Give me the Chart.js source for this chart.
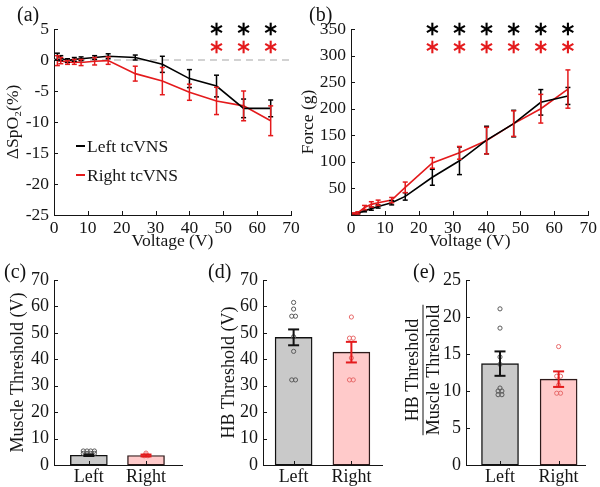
<!DOCTYPE html>
<html><head><meta charset="utf-8">
<script src="https://cdn.jsdelivr.net/npm/chart.js@4/dist/chart.umd.min.js"></script>
<style>
html,body{margin:0;padding:0;background:#fff;}
#wrap{position:relative;width:600px;height:487px;overflow:hidden;background:#fff}
canvas{position:absolute;left:0;top:0;}
.lab{position:absolute;font-family:"Liberation Serif","Times New Roman",serif;font-size:20px;line-height:20px;color:#111}
</style></head><body>
<div id="wrap">
<canvas id="ca" width="600" height="487"></canvas>
<canvas id="cb" width="600" height="487"></canvas>
<canvas id="cc" width="600" height="487"></canvas>
<canvas id="cd" width="600" height="487"></canvas>
<canvas id="ce" width="600" height="487"></canvas>
<div class="lab" style="left:17px;top:4px">(a)</div>
<div class="lab" style="left:309px;top:4px">(b)</div>
<div class="lab" style="left:4px;top:261px">(c)</div>
<div class="lab" style="left:208px;top:261px">(d)</div>
<div class="lab" style="left:413px;top:261px">(e)</div>
</div>
<script>
// ---------- data ----------
const voltages = [1, 2, 4, 6, 8, 12, 16, 24, 32, 40, 48, 56, 64];
const voltTicks = [0, 10, 20, 30, 40, 50, 60, 70];
const seriesNames = ['Left tcVNS', 'Right tcVNS'];

const spo2Left     = [0.6, 0.3, -0.1, 0.1, 0.2, 0.4, 0.6, 0.4, -0.7, -3.0, -4.2, -7.8, -7.8];
const spo2LeftErr  = [0.5, 0.4, 0.3, 0.3, 0.3, 0.3, 0.4, 0.4, 1.3, 1.45, 1.75, 1.5, 1.35];
const spo2Right    = [-0.1, -0.1, -0.4, -0.3, -0.4, -0.2, -0.1, -2.2, -3.4, -5.2, -6.6, -7.4, -9.8];
const spo2RightErr = [0.8, 0.5, 0.3, 0.4, 0.5, 0.6, 0.6, 1.2, 2.2, 1.3, 2.2, 2.4, 2.4];
const spo2Ticks = [-25, -20, -15, -10, -5, 0, 5];
const sigSpO2 = [48, 56, 64];

const forceLeft     = [2, 3, 8, 12, 16, 23, 35, 71, 102, 141, 172, 212, 224];
const forceLeftErr  = [1, 1, 2, 3, 3, 4, 7, 15, 26, 26, 25, 24, 16];
const forceRight    = [3, 4, 14, 20, 23, 28, 52, 98, 117, 140, 172, 200, 237];
const forceRightErr = [1, 2, 4, 5, 5, 5, 10, 10, 12, 25, 24, 27, 36];
const forceTicks = [0, 50, 100, 150, 200, 250, 300, 350];
const sigForce = [24, 32, 40, 48, 56, 64];

const groups = ['Left', 'Right'];
const muscleMean = [3.7, 3.6];
const muscleErr  = [0.3, 0.35];
const muscleLeftPts  = [5.3, 5.3, 5.3, 5.3, 4.4, 4.4, 4.4, 4.4];
const muscleRightPts = [4.5, 3.8, 3.5, 3.5];

const hbMean = [48.3, 42.7];
const hbErr  = [3.0, 3.9];
const hbLeftPts  = [61.5, 59, 56.3, 56.3, 48.5, 43, 32.2, 32.2];
const hbRightPts = [56, 48, 48, 40.5, 32.2, 32.2];
const thrTicks = [0, 10, 20, 30, 40, 50, 60, 70];

const ratioMean = [13.7, 11.6];
const ratioErr  = [1.65, 1.05];
const ratioLeftPts  = [21.1, 18.5, 14.6, 13.6, 10.4, 10, 10, 9.5, 9.5];
const ratioRightPts = [16, 12, 12, 10.8, 9.7, 9.7];
const ratioTicks = [0, 5, 10, 15, 20, 25];

// ---------- styles ----------
const SERIF = '"Liberation Serif","Times New Roman",serif';
const RED = '#e41a1c';
const INK = '#151515';

function pad(box, yW, xH) {
  return {left: box.l - yW, top: box.t, right: 600 - box.r, bottom: 487 - box.b - xH};
}
function line(ctx, x1, y1, x2, y2) { ctx.beginPath(); ctx.moveTo(x1, y1); ctx.lineTo(x2, y2); ctx.stroke(); }

const errorBars = {
  id: 'errorBars',
  afterDatasetsDraw(chart, args, o) {
    const ctx = chart.ctx;
    chart.data.datasets.forEach((ds, i) => {
      if (!ds.errors) return;
      const meta = chart.getDatasetMeta(i);
      const ys = chart.scales[meta.yAxisID];
      ctx.save();
      ctx.lineWidth = o.width || 1.5;
      meta.data.forEach((el, j) => {
        const e = ds.errors[j];
        if (e == null) return;
        const d = ds.data[j];
        const v = typeof d === 'object' ? d.y : d;
        const x = el.x, y1 = ys.getPixelForValue(v + e), y2 = ys.getPixelForValue(v - e);
        const c = o.cap || 2.5;
        ctx.strokeStyle = (ds.errColors && ds.errColors[j]) || ds.borderColor;
        line(ctx, x, y1, x, y2);
        line(ctx, x - c, y1, x + c, y1);
        line(ctx, x - c, y2, x + c, y2);
      });
      ctx.restore();
    });
  }
};

const inTicks = {
  id: 'inTicks',
  afterDatasetsDraw(chart) {
    const ctx = chart.ctx, ca = chart.chartArea, xs = chart.scales.x, ys = chart.scales.y;
    ctx.save(); ctx.strokeStyle = INK; ctx.lineWidth = 1;
    xs.ticks.forEach(t => { const p = Math.round(xs.getPixelForValue(t.value)) + 0.5; line(ctx, p, ca.bottom, p, ca.bottom - 4); });
    ys.ticks.forEach(t => { const p = Math.round(ys.getPixelForValue(t.value)) + 0.5; line(ctx, ca.left, p, ca.left + 4, p); });
    ctx.restore();
  }
};

const sigStars = {
  id: 'sigStars',
  afterDraw(chart, args, o) {
    const ctx = chart.ctx, xs = chart.scales.x, top = chart.chartArea.top;
    ctx.save(); ctx.lineWidth = 2.1; ctx.lineCap = 'butt';
    o.rows.forEach(r => {
      ctx.strokeStyle = r.color;
      o.xs.forEach(v => {
        const cx = xs.getPixelForValue(v), cy = top + r.dy, R = 6.3;
        [90, 30, 150].forEach(a => {
          const rad = a * Math.PI / 180, dx = Math.cos(rad) * R, dy = Math.sin(rad) * R;
          line(ctx, cx - dx, cy - dy, cx + dx, cy + dy);
        });
      });
    });
    ctx.restore();
  }
};

const zeroLine = {
  id: 'zeroLine',
  beforeDatasetsDraw(chart) {
    const ctx = chart.ctx, xs = chart.scales.x, ys = chart.scales.y;
    const y = ys.getPixelForValue(0);
    ctx.save(); ctx.strokeStyle = '#c4c4c4'; ctx.lineWidth = 1.3; ctx.setLineDash([7, 5]);
    line(ctx, xs.getPixelForValue(xs.min), y, xs.getPixelForValue(xs.max), y);
    ctx.restore();
  }
};

const inLegend = {
  id: 'inLegend',
  afterDraw(chart, args, o) {
    const ctx = chart.ctx;
    ctx.save();
    chart.data.datasets.forEach((ds, i) => {
      const y = o.y + i * o.gap;
      ctx.strokeStyle = ds.borderColor; ctx.lineWidth = 2;
      line(ctx, o.x, y, o.x + o.len, y);
      ctx.fillStyle = INK; ctx.font = '17.5px ' + SERIF; ctx.textBaseline = 'middle'; ctx.textAlign = 'left';
      ctx.fillText(ds.label, o.x + o.len + 2, y + 1);
    });
    ctx.restore();
  }
};

const fracTitle = {
  id: 'fracTitle',
  afterDraw(chart, args, o) {
    const ctx = chart.ctx;
    ctx.save();
    ctx.fillStyle = INK; ctx.strokeStyle = INK; ctx.font = '18px ' + SERIF;
    ctx.textAlign = 'center'; ctx.textBaseline = 'middle';
    const cy = o.cy;
    ctx.translate(o.x, cy); ctx.rotate(-Math.PI / 2);
    ctx.fillText(o.num, 0, -10);
    const w = ctx.measureText(o.den).width;
    ctx.lineWidth = 1; line(ctx, -w / 2, 0, w / 2, 0);
    ctx.fillText(o.den, 0, 11);
    ctx.restore();
  }
};

function axisCommon(size) {
  return {
    grid: {display: false, drawTicks: false},
    border: {display: true, color: INK, width: 1},
    ticks: {font: {family: SERIF, size: size}, color: INK, maxRotation: 0, autoSkip: false},
  };
}

function lineChart(id, box, yW, xH, left, leftErr, right, rightErr, yTicks, yTitle, yTitlePad, hideZero, extraPlugins, pluginOpts) {
  const xa = axisCommon(17.5), ya = axisCommon(17.5);
  return new Chart(document.getElementById(id), {
    type: 'line',
    data: {
      datasets: [
        {label: seriesNames[0], data: voltages.map((v, i) => ({x: v, y: left[i]})), errors: leftErr,
         borderColor: '#000', borderWidth: 1.6, pointRadius: 0, tension: 0, fill: false},
        {label: seriesNames[1], data: voltages.map((v, i) => ({x: v, y: right[i]})), errors: rightErr,
         borderColor: RED, borderWidth: 1.6, pointRadius: 0, tension: 0, fill: false}
      ]
    },
    options: {
      responsive: false, animation: false, events: [],
      layout: {padding: pad(box, yW, xH)},
      plugins: Object.assign({legend: {display: false}, tooltip: {enabled: false}, errorBars: {width: 1.5, cap: 2.5}}, pluginOpts),
      scales: {
        x: Object.assign(xa, {
          type: 'linear', min: voltTicks[0], max: voltTicks[voltTicks.length - 1],
          afterBuildTicks: s => { s.ticks = voltTicks.map(v => ({value: v})); },
          afterFit: s => { s.height = xH; },
          ticks: Object.assign(xa.ticks, {padding: 3}),
          title: {display: true, text: 'Voltage (V)', color: INK, font: {family: SERIF, size: 17.5}, padding: {top: 0, bottom: 0.5}}
        }),
        y: Object.assign(ya, {
          type: 'linear', min: yTicks[0], max: yTicks[yTicks.length - 1],
          afterBuildTicks: s => { s.ticks = yTicks.map(v => ({value: v})); },
          afterFit: s => { s.width = yW; },
          ticks: Object.assign(ya.ticks, {padding: 5, callback: v => (hideZero && v === 0) ? '' : String(v)}),
          title: {display: true, text: yTitle, color: INK, font: {family: SERIF, size: 17.5}, padding: {top: yTitlePad, bottom: 0}}
        })
      }
    },
    plugins: [zeroLineIf(id), errorBars, inTicks, sigStars].concat(extraPlugins)
  });
}
function zeroLineIf(id) { return id === 'ca' ? zeroLine : {id: 'noop'}; }

function swarm(center, vals, step) {
  const g = {};
  vals.forEach(v => { (g[v] = g[v] || []).push(v); });
  const out = [];
  Object.keys(g).forEach(k => g[k].forEach((v, i) => out.push({x: center + (i - (g[k].length - 1) / 2) * step, y: v})));
  return out;
}

function barChart(id, box, yW, xH, xMin, xMax, means, errs, leftPts, rightPts, yTicks, yTitle, yTitlePad, extraPlugins, pluginOpts) {
  const xa = axisCommon(18), ya = axisCommon(18);
  const step = 0.065;
  return new Chart(document.getElementById(id), {
    type: 'bar',
    data: {
      datasets: [
        {type: 'bar', data: means.map((m, i) => ({x: i + 1, y: m})), errors: errs, errColors: ['#111', RED],
         backgroundColor: ['#c9c9c9', '#ffcaca'], borderColor: ['#111', '#2e1a1a'], borderWidth: 1.4,
         borderSkipped: false, barThickness: 37, order: 2},
        {type: 'scatter', data: swarm(1, leftPts, step), borderColor: '#5a5a5a', backgroundColor: 'rgba(0,0,0,0)',
         pointRadius: 2.1, borderWidth: 1, order: 1},
        {type: 'scatter', data: swarm(2, rightPts, step), borderColor: '#e86a6a', backgroundColor: 'rgba(0,0,0,0)',
         pointRadius: 2.1, borderWidth: 1, order: 1}
      ]
    },
    options: {
      responsive: false, animation: false, events: [],
      layout: {padding: pad(box, yW, xH)},
      plugins: Object.assign({legend: {display: false}, tooltip: {enabled: false}, errorBars: {width: 2, cap: 5.5}}, pluginOpts),
      scales: {
        x: Object.assign(xa, {
          type: 'linear', min: xMin, max: xMax, offset: false,
          afterBuildTicks: s => { s.ticks = groups.map((g, i) => ({value: i + 1})); },
          afterFit: s => { s.height = xH; },
          ticks: Object.assign(xa.ticks, {padding: 1, callback: v => groups[v - 1]}),
          title: {display: false}
        }),
        y: Object.assign(ya, {
          type: 'linear', min: yTicks[0], max: yTicks[yTicks.length - 1],
          afterBuildTicks: s => { s.ticks = yTicks.map(v => ({value: v})); },
          afterFit: s => { s.width = yW; },
          ticks: Object.assign(ya.ticks, {padding: 5}),
          title: {display: !!yTitle, text: yTitle, color: INK, font: {family: SERIF, size: 18}, padding: {top: yTitlePad, bottom: 0}}
        })
      }
    },
    plugins: [errorBars, inTicks].concat(extraPlugins)
  });
}

// (a)
lineChart('ca', {l: 54, t: 29, r: 291, b: 215}, 54, 37, spo2Left, spo2LeftErr, spo2Right, spo2RightErr,
  spo2Ticks, 'ΔSpO₂(%)', 2.5, false, [inLegend],
  {sigStars: {xs: sigSpO2, rows: [{dy: 0, color: '#000'}, {dy: 18, color: RED}]}, inLegend: {x: 76, y: 146, gap: 29, len: 9}});
// (b)
lineChart('cb', {l: 351, t: 29, r: 591, b: 215}, 54, 37, forceLeft, forceLeftErr, forceRight, forceRightErr,
  forceTicks, 'Force (g)', 0.5, true, [],
  {sigStars: {xs: sigForce, rows: [{dy: 0, color: '#000'}, {dy: 18, color: RED}]}});
// (c)
barChart('cc', {l: 54, t: 280, r: 182, b: 465}, 54, 22, 0.39, 2.63, muscleMean, muscleErr, muscleLeftPts, muscleRightPts,
  thrTicks, 'Muscle Threshold (V)', 7, [], {});
// (d)
barChart('cd', {l: 263, t: 280, r: 382, b: 465}, 45, 22, 0.47, 2.53, hbMean, hbErr, hbLeftPts, hbRightPts,
  thrTicks, 'HB Threshold (V)', 0, [], {});
// (e)
barChart('ce', {l: 466, t: 280, r: 585, b: 465}, 40, 22, 0.42, 2.45, ratioMean, ratioErr, ratioLeftPts, ratioRightPts,
  ratioTicks, '', 0, [fracTitle], {fracTitle: {x: 423, cy: 370, num: 'HB Threshold', den: 'Muscle Threshold'}});
</script>
</body></html>
